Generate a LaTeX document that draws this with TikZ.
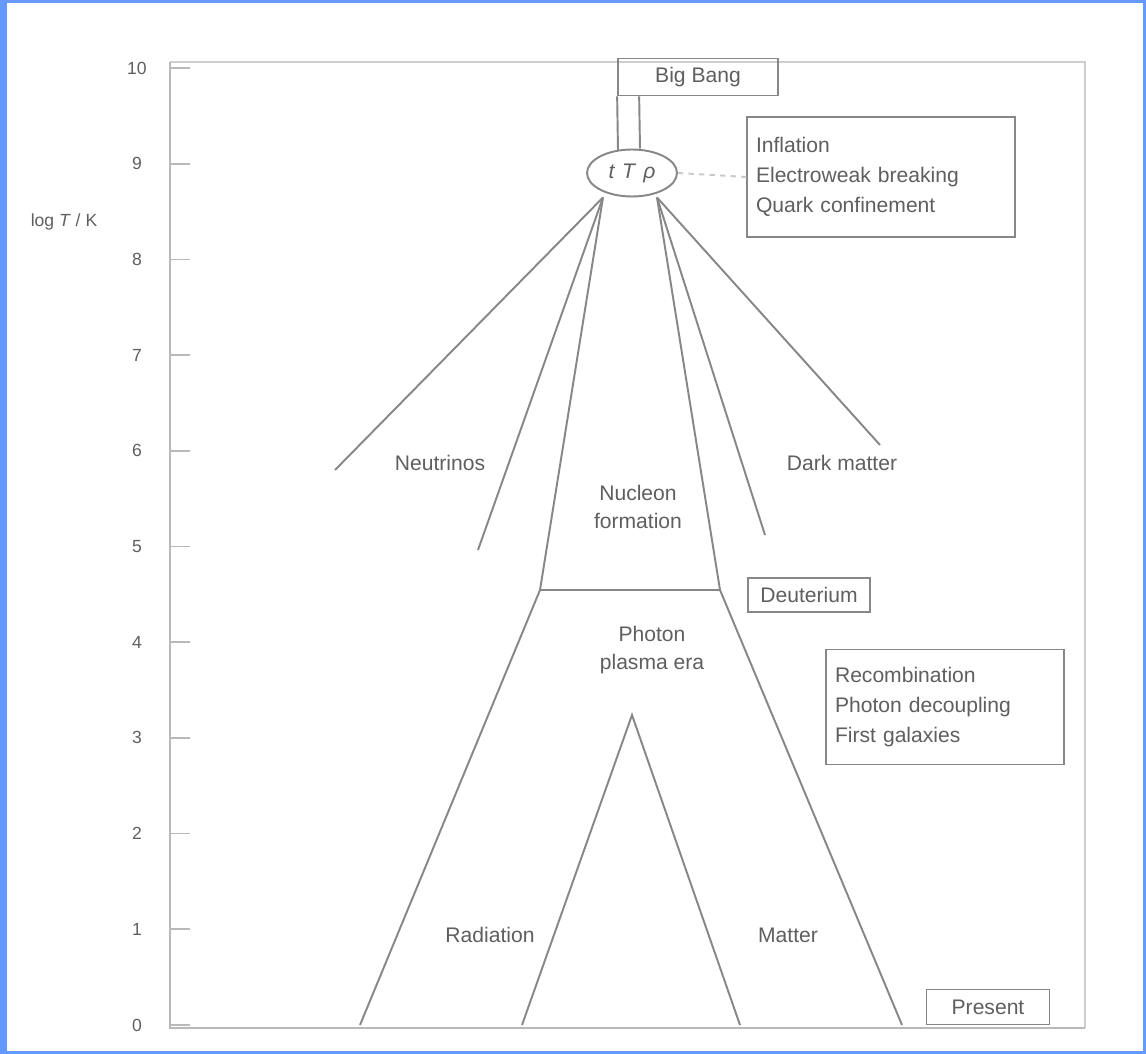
\documentclass[tikz,border=0pt]{standalone}
\usepackage{fontspec}
\setmainfont{Liberation Sans}
\usepackage{tikz}
\usetikzlibrary{
	calc,
	positioning,
	shapes.geometric
}
\definecolor{EdgeBlue}{RGB}{102,153,255}
\definecolor{LineGray}{RGB}{135,135,135}
\definecolor{AxisGray}{RGB}{185,185,185}
\definecolor{TextGray}{RGB}{95,95,95}

\tikzset{
	branch/.style={line width=1.1pt, LineGray},
	axisline/.style={line width=1.6pt, AxisGray},
	labelbox/.style={draw=LineGray, line width=1pt, text=TextGray, font=\large, inner xsep=5pt, inner ysep=3pt},
	era/.style={text=TextGray, font=\large, align=center},
	ticklabel/.style={text=TextGray, font=\normalsize}
}

\begin{document}
\begin{tikzpicture}[x=0.02cm, y=-0.02cm]
		\fill[EdgeBlue] (0,0) rectangle (1146,1054);
		\fill[white] (7,3) rectangle (1143,1051);
		\useasboundingbox (0,0) rectangle (1146,1054);
		% frame and axis
		\draw[axisline, AxisGray!70] (170,62) -- (1085,62) -- (1085,1028);
		\draw[axisline] (170,62) -- (170,1028) -- (1085,1028);
		\foreach \k in {0,...,10} {
			\coordinate (t\k) at (170,{1025-95.7*\k});
			\draw[axisline, line width=1pt] (t\k) -- ++(20,0);
			\node[ticklabel] (n\k) at (137,{1025-95.7*\k}) {\k};
		}
		\node[ticklabel] (axislabel) at (64,222) {log \textit{T} / K};
		% boxes and labels
		\node[labelbox, minimum width=3.2cm, minimum height=0.74cm] (bigbang) at (698,77) {Big Bang};
		\node[draw=LineGray, line width=1.1pt, ellipse, minimum width=1.8cm, minimum height=0.94cm, inner sep=0pt, text=TextGray, font=\large] (origin) at (632,173) {\textit{t}\,\,\textit{T}\,\,\textit{ρ}};
		\node[labelbox, text width=5.0cm, minimum height=2.4cm, align=left] (phases) at (881,177) {Inflation\\[3pt] Electroweak breaking\\[3pt] Quark confinement};
		\node[labelbox, minimum width=2.44cm, minimum height=0.68cm] (nuclei) at (809,595) {Deuterium};
		\node[labelbox, text width=4.4cm, minimum height=2.3cm, align=left] (events) at (945,707) {Recombination\\[3pt] Photon decoupling\\[3pt] First galaxies};
		\node[labelbox, minimum width=2.46cm, minimum height=0.7cm] (today) at (988,1007) {Present};
		\node[era] (neutrinos) at (440,463) {Neutrinos};
		\node[era] (darkmatter) at (842,463) {Dark matter};
		\node[era] (hadrons) at (638,507) {Nucleon\\[2pt] formation};
		\node[era] (plasma) at (652,650) {Photon\\[2pt] plasma era};
		\node[era] (radiation) at (490,935) {Radiation};
		\node[era] (matter) at (788,935) {Matter};
		% branch points
		\coordinate (fanL) at ($(origin.south)+(-29,0)$);
		\coordinate (fanR) at ($(origin.south)+(25,0)$);
		\coordinate (nuEnd) at (335,470);
		\coordinate (leftEnd) at (478,550);
		\coordinate (hadL) at (540,590);
		\coordinate (hadR) at (720,590);
		\coordinate (rightEnd) at (765,535);
		\coordinate (dmEnd) at (880,445);
		\coordinate (baseL) at (360,1025);
		\coordinate (baseR) at (902,1025);
		\coordinate (apex) at (632,715);
		\coordinate (innerL) at (522,1025);
		\coordinate (innerR) at (740,1025);
		% connectors
		\draw[branch] (bigbang.south west) -- ($(origin.north)+(-14,2)$);
		\draw[branch] ($(bigbang.south west)+(22,0)$) -- ($(origin.north)+(8,0)$);
		\draw[branch, dashed, LineGray!45] (origin.east) -- (phases.west);
		\draw[branch] (fanL) -- (nuEnd);
		\draw[branch] (fanL) -- (leftEnd);
		\draw[branch] (fanL) -- (hadL);
		\draw[branch] (fanR) -- (hadR);
		\draw[branch] (fanR) -- (rightEnd);
		\draw[branch] (fanR) -- (dmEnd);
		\draw[branch] (hadL) -- (hadR);
		\draw[branch] (hadL) -- (baseL);
		\draw[branch] (hadR) -- (baseR);
		\draw[branch] (innerL) -- (apex) -- (innerR);
	\end{tikzpicture}
\end{document}
